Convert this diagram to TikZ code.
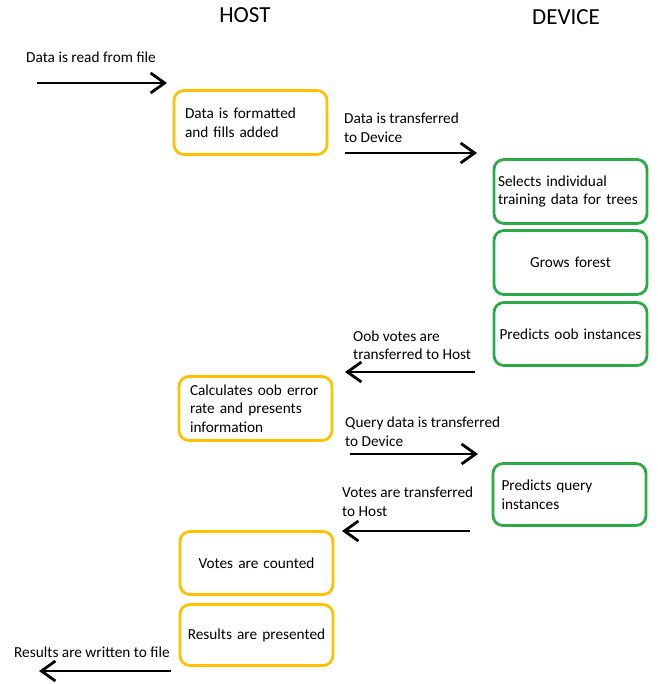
\documentclass[tikz,border=0pt]{standalone}
\usepackage{fontspec}
\setmainfont{Carlito}
\usetikzlibrary{arrows.meta}

\definecolor{hostcol}{RGB}{255,192,0}
\definecolor{devcol}{RGB}{45,170,70}

\tikzset{
  every node/.style={font=\fontsize{15.3}{18.5}\selectfont, inner sep=0pt},
  title/.style={font=\fontsize{23}{27}\selectfont},
  lbl/.style={anchor=west, align=left},
  stepbox/.style={draw, line width=2.8pt, rounded corners=10pt, inner xsep=5.5pt,
    text width=142pt, align=center},
  padded/.style={align=left, inner xsep=#1, text width=153pt-2*#1},
  hostbox/.style={stepbox, draw=hostcol},
  devbox/.style={stepbox, draw=devcol},
  flow/.style={line width=2.8pt, -{Straight Barb[length=14pt, width=20pt, line width=2.8pt]}}
}

\begin{document}
\begin{tikzpicture}[x=1pt, y=-1pt]
  \useasboundingbox (0,0) rectangle (657,684);

  \node[title] (host) at (245,15) {HOST};
  \node[title] (device) at (566,17) {DEVICE};

  % host side
  \node[hostbox, padded=11pt, minimum height=64pt] (fmt) at (250.5,122.5)
    {Data is formatted\\and fills added\\[3pt]};
  \node[hostbox, padded=11pt, minimum height=64pt] (calc) at (255.5,408.5)
    {Calculates oob error\\rate and presents\\information};
  \node[hostbox, minimum height=63pt] (count) at (256.5,563)
    {Votes are counted\\[2pt]};
  \node[hostbox, minimum height=61pt] (present) at (256.5,635)
    {Results are presented\\[2pt]};

  % device side
  \node[devbox, padded=4pt, minimum height=64pt] (select) at (570.5,191.5)
    {Selects individual\\training data for trees\\[4pt]};
  \node[devbox, minimum height=64pt] (grow) at (570.5,262.5)
    {Grows forest\\[5pt]};
  \node[devbox, minimum height=63pt] (predoob) at (570.5,334)
    {Predicts oob instances};
  \node[devbox, padded=8.5pt, minimum height=62pt] (predq) at (569.5,494.5)
    {Predicts query\\instances\\[2pt]};

  % transfers
  \node[lbl] (readlbl) at (26,57) {Data is read from file};
  \node[lbl] (tolbl) at (344,127.5) {Data is transferred\\to Device};
  \node[lbl] (ooblbl) at (353,345) {Oob votes are\\transferred to Host};
  \node[lbl] (querylbl) at (345,431.5) {Query data is transferred\\to Device};
  \node[lbl] (voteslbl) at (342,501.5) {Votes are transferred\\to Host};
  \node[lbl] (writelbl) at (14,652) {Results are written to file};

  \coordinate (readsrc) at (37,83);    \coordinate (readdst) at (167,83);
  \coordinate (tosrc) at (345,153);    \coordinate (todst) at (477,153);
  \coordinate (oobsrc) at (475,372);   \coordinate (oobdst) at (345,372);
  \coordinate (querysrc) at (350,454); \coordinate (querydst) at (478,454);
  \coordinate (votessrc) at (470,531); \coordinate (votesdst) at (342,531);
  \coordinate (writesrc) at (171,671); \coordinate (writedst) at (39,671);

  \path[flow]
  (readsrc) edge (readdst)
  (tosrc) edge (todst)
  (oobsrc) edge (oobdst)
  (querysrc) edge (querydst)
  (votessrc) edge (votesdst)
  (writesrc) edge (writedst)
;
\end{tikzpicture}
\end{document}
